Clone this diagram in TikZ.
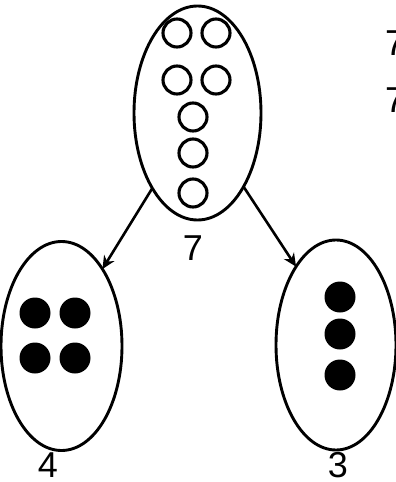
\documentclass[tikz,border=0pt]{standalone}
\usepackage{fontspec}
\setmainfont{Liberation Sans}
\usetikzlibrary{shapes.geometric,arrows.meta}
\begin{document}
\begin{tikzpicture}[x=1pt,y=-1pt,
  set/.style={draw,ellipse,line width=2.9pt,inner sep=0pt,outer sep=0pt},
  hollow/.style={draw,line width=3.1pt},
  solid/.style={fill=black},
  lbl/.style={inner sep=0pt,font=\fontsize{36}{36}\selectfont},
  arr/.style={line width=2.6pt,-{Stealth[length=13pt,width=12pt]}}]
\useasboundingbox (0,0) rectangle (396,482);
\clip (0,0) rectangle (396,482);
% sets
\node[set,minimum width=127pt,minimum height=214pt] (top) at (197.5,113) {};
\node[set,minimum width=121pt,minimum height=209pt] (left) at (61.5,346) {};
\node[set,minimum width=120pt,minimum height=210pt] (right) at (336,345) {};
% hollow circles
\foreach \p in {(177,33),(216,33),(177,80),(216,80),(193,117),(193,153),(193,193)}
  \draw[hollow] \p circle (14);
% solid dots
\foreach \p in {(35,313),(75,313),(35,358),(75,358)}
  \fill[solid] \p circle (15.5);
\foreach \p in {(340,297),(340,334),(340,375)}
  \fill[solid] \p circle (15.5);
% labels
\node[lbl] (l7) at (193,248) {7};
\node[lbl] (l4) at (48,465) {4};
\node[lbl] (l3) at (338,465) {3};
\node[lbl,anchor=west] (t1) at (385,43) {7};
\node[lbl,anchor=west] (t2) at (385,100) {7};
% arrows
\draw[arr] (top.239) -- (left.62);
\draw[arr] (top.302) -- (right.117);
\end{tikzpicture}
\end{document}
